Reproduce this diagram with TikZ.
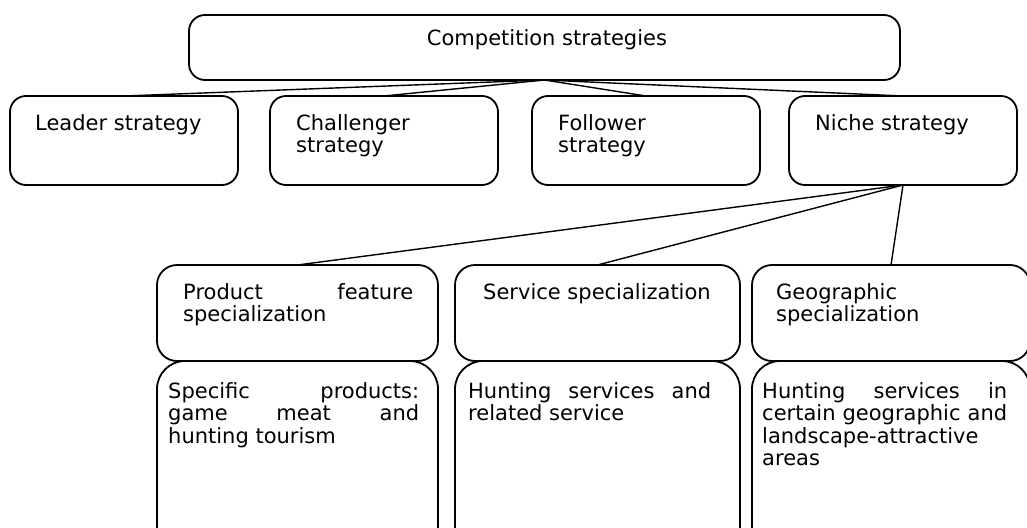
\documentclass[tikz,border=0pt]{standalone}
\usepackage{fontspec}
\setmainfont{DejaVu Sans}
\usetikzlibrary{calc}
\hyphenpenalty=10000
\tolerance=9999
\tikzset{box/.style={draw,line width=1.8pt,rounded corners=16pt,inner sep=0pt,outer sep=0pt}}
\tikzset{t/.style={anchor=base west,inner sep=0pt,font=\fontsize{21}{22.5}\selectfont}}
\tikzset{j/.style={t,align=justify}}
\tikzset{conn/.style={line width=1.4pt}}

\begin{document}
\begin{tikzpicture}[x=1pt,y=-1pt,line join=round]
  \useasboundingbox (0,0) rectangle (1027,527);
  \clip (0,0) rectangle (1027,527);
  \node[box,minimum width=711pt,minimum height=65pt] (C) at (544.5,47.5) {};
  \node[t,anchor=base] at ($(C.north)+(2.5,31)$) {Competition strategies};
  \node[box,minimum width=228pt,minimum height=89pt] (L) at (124,140.5) {};
  \node[t] at ($(L.north west)+(25,34)$) {Leader strategy};
  \node[box,minimum width=228pt,minimum height=89pt] (Ch) at (384,140.5) {};
  \node[t,align=left,text width=180pt] at ($(Ch.north west)+(26,34)$) {Challenger\\strategy};
  \node[box,minimum width=228pt,minimum height=89pt] (F) at (646,140.5) {};
  \node[t,align=left,text width=180pt] at ($(F.north west)+(26,34)$) {Follower\\strategy};
  \node[box,minimum width=228pt,minimum height=89pt] (N) at (903,140.5) {};
  \node[t] at ($(N.north west)+(26,34)$) {Niche strategy};
  \foreach \s in {L,Ch,F,N}
    \draw[conn] (C.south) -- (\s.north);
  \begin{scope}[box/.append style={rounded corners=20pt,minimum height=96pt}]
    \node[box,minimum width=281pt] (P) at (297.5,313) {};
    \node[j,text width=230pt] at ($(P.north west)+(26,34)$) {Product feature\linebreak specialization};
    \node[box,minimum width=285pt] (S) at (597.5,313) {};
    \node[t] at ($(S.north west)+(28,34)$) {Service specialization};
    \node[box,minimum width=278pt] (G) at (891,313) {};
    \node[t,align=left,text width=230pt] at ($(G.north west)+(24,34)$) {Geographic\\specialization};
  \end{scope}
  \foreach \s in {P,S,G}
    \draw[conn] (N.south) -- (\s.north);
  \begin{scope}[box/.append style={rounded corners=28pt,minimum height=200pt}]
    \node[box,minimum width=281pt] (PD) at (297.5,461) {};
    \node[j,text width=251pt] at ($(PD.north west)+(11,37)$) {Specific products:\linebreak game meat and\linebreak hunting tourism};
    \node[box,minimum width=285pt] (SD) at (597.5,461) {};
    \node[j,text width=243pt] at ($(SD.north west)+(13,37)$) {Hunting services and\linebreak related service};
    \node[box,minimum width=278pt] (GD) at (891,461) {};
    \node[j,text width=245pt] at ($(GD.north west)+(10,37)$) {Hunting services in\linebreak certain geographic and\linebreak landscape-attractive\newline areas};
  \end{scope}
\end{tikzpicture}
\end{document}
